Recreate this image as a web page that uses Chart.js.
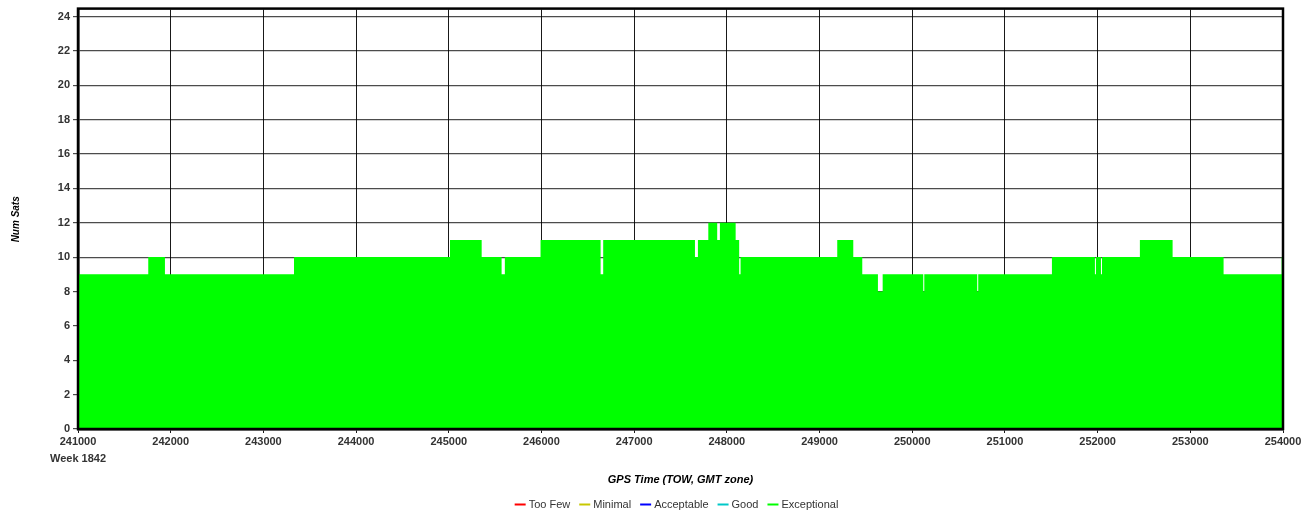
<!DOCTYPE html>
<html>
<head>
<meta charset="utf-8">
<script src="https://cdn.jsdelivr.net/npm/chart.js@4/dist/chart.umd.min.js"></script>
<style>
  html, body { margin: 0; padding: 0; background: #fff; }
  #wrap { width: 1313px; height: 514px; }
</style>
</head>
<body>
<div id="wrap"><canvas id="satsChart"></canvas></div>
<script>
// ===================
// Num sats vs GPS time (week 1842)
// ===================
// each entry: count holds from this TOW until the next one
const towSeconds = [
  241000, 241758, 241938, 243330, 245013, 245355, 245570, 245605,
  245990, 246638, 246666, 247656, 247688, 247800, 247896, 247925,
  248095, 248133, 248148, 249191, 249364, 249461, 249630, 249681,
  250119, 250130, 250701, 250712, 251507, 251971, 251982, 252036,
  252047, 252456, 252809, 253359, 253985, 254000
];
const numSats = [
  9, 10, 9, 10, 11, 10, 9, 10,
  11, 9, 11, 10, 11, 12, 11, 12,
  11, 9, 10, 11, 10, 9, 8, 9,
  8, 9, 8, 9, 10, 9, 10, 9,
  10, 11, 10, 9, 10, 10
];

const xTicks = [241000, 242000, 243000, 244000, 245000, 246000, 247000,
  248000, 249000, 250000, 251000, 252000, 253000, 254000];
const yTicks = [0, 2, 4, 6, 8, 10, 12, 14, 16, 18, 20, 22, 24];
const gpsWeek = "Week 1842";

const qualityNames = ["Too Few", "Minimal", "Acceptable", "Good", "Exceptional"];
const qualityColors = ["#ff0000", "#c8c800", "#0000ff", "#00c8c8", "#00ff00"];

const points = towSeconds.map((t, i) => ({ x: t, y: numSats[i] }));
const FONT = "Liberation Sans, Arial, sans-serif";

// frame around the plot area
const frame = {
  id: "frame",
  afterDraw(chart) {
    const a = chart.chartArea;
    const ctx = chart.ctx;
    ctx.save();
    ctx.strokeStyle = "#000";
    ctx.lineWidth = 2.5;
    ctx.strokeRect(a.left, a.top - 1, a.right - a.left, a.bottom - a.top + 1);
    ctx.restore();
  },
};

// quality legend under the axis title (short line + name)
const qualityLegend = {
  id: "qualityLegend",
  afterDraw(chart) {
    const ctx = chart.ctx;
    const a = chart.chartArea;
    const lineW = 11, gap = 3, spacing = 9, y = 504.5;
    ctx.save();
    ctx.font = "11px " + FONT;
    const widths = qualityNames.map((n) => ctx.measureText(n).width);
    const total = widths.reduce((s, w) => s + lineW + gap + w, 0) + spacing * (qualityNames.length - 1);
    let x = (a.left + a.right) / 2 - 4 - total / 2;
    ctx.textBaseline = "middle";
    qualityNames.forEach((name, i) => {
      ctx.strokeStyle = qualityColors[i];
      ctx.lineWidth = 2;
      ctx.beginPath();
      ctx.moveTo(x, y);
      ctx.lineTo(x + lineW, y);
      ctx.stroke();
      x += lineW + gap;
      ctx.fillStyle = "#333";
      ctx.fillText(name, x, y);
      x += widths[i] + spacing;
    });
    ctx.restore();
  },
};

const datasets = qualityNames.map((name, i) => ({
  label: name,
  data: i === 4 ? points : [],
  borderColor: qualityColors[i],
  backgroundColor: qualityColors[i],
  borderWidth: 0,
  pointRadius: 0,
  stepped: true,
  fill: i === 4 ? "origin" : false,
}));

const satsChart = new Chart(document.getElementById("satsChart"), {
  type: "line",
  data: { datasets: datasets },
  options: {
    responsive: true,
    maintainAspectRatio: false,
    animation: false,
    layout: { padding: { left: 0, right: 30, top: 8, bottom: 0 } },
    plugins: {
      tooltip: { enabled: false },
      legend: { display: false },
    },
    scales: {
      x: {
        type: "linear",
        min: 241000,
        max: 254000,
        z: 1,
        afterBuildTicks: (s) => { s.ticks = xTicks.map((v) => ({ value: v })); },
        afterFit: (s) => { s.height = 85; },
        grid: { color: "rgba(0,0,0,0.9)", lineWidth: 1, tickLength: 4 },
        border: { color: "#000", width: 2.5 },
        ticks: {
          maxRotation: 0,
          autoSkip: false,
          padding: 1,
          color: "#333",
          font: { family: FONT, size: 11, weight: "bold", lineHeight: 1.5 },
          callback: (v) => (v === 241000 ? [String(v), gpsWeek] : String(v)),
        },
        title: {
          display: true,
          text: "GPS Time (TOW, GMT zone)",
          color: "#000",
          padding: { top: 4, bottom: 27 },
          font: { family: FONT, size: 11, weight: "bold", style: "italic" },
        },
      },
      y: {
        min: 0,
        max: 24.4,
        z: 1,
        afterBuildTicks: (s) => { s.ticks = yTicks.map((v) => ({ value: v })); },
        afterFit: (s) => { s.width = 78; },
        grid: { color: "rgba(0,0,0,0.7)", lineWidth: 1.2, tickLength: 5 },
        border: { color: "#000", width: 2.5 },
        ticks: {
          padding: 3,
          color: "#333",
          font: { family: FONT, size: 11, weight: "bold" },
        },
        title: {
          display: true,
          text: "Num Sats",
          color: "#000",
          padding: { top: 10, bottom: 0 },
          font: { family: FONT, size: 10, weight: "bold", style: "italic" },
        },
      },
    },
  },
  plugins: [frame, qualityLegend],
});
</script>
</body>
</html>
